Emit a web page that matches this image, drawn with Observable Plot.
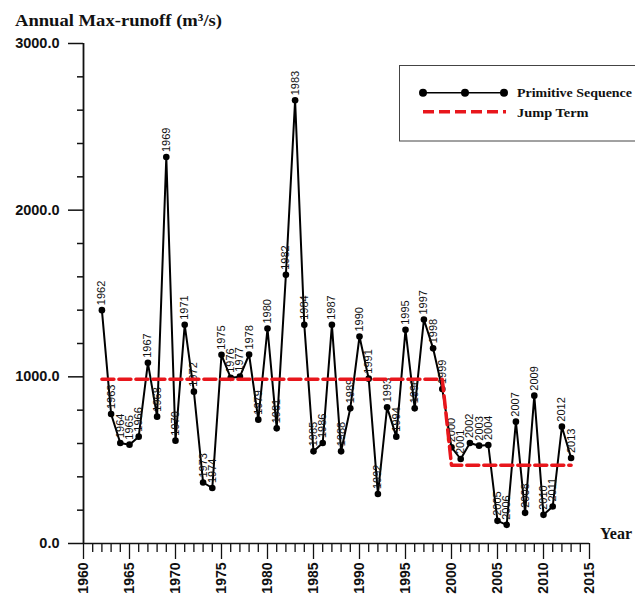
<!DOCTYPE html>
<html>
<head>
<meta charset="utf-8">
<script src="https://cdn.jsdelivr.net/npm/d3@7"></script>
<script src="https://cdn.jsdelivr.net/npm/@observablehq/plot@0.6"></script>
<style>
  html, body { margin: 0; padding: 0; background: #fff; }
  #wrap { position: relative; width: 635px; height: 601px; overflow: hidden; }
  #wrap > svg { position: absolute; left: 0; top: 0; }
</style>
</head>
<body>
<div id="wrap"></div>
<script>
// Annual maximum runoff (m³/s), one value per year
const years = [
  1962, 1963, 1964, 1965, 1966, 1967, 1968, 1969, 1970, 1971,
  1972, 1973, 1974, 1975, 1976, 1977, 1978, 1979, 1980, 1981,
  1982, 1983, 1984, 1985, 1986, 1987, 1988, 1989, 1990, 1991,
  1992, 1993, 1994, 1995, 1996, 1997, 1998, 1999, 2000, 2001,
  2002, 2003, 2004, 2005, 2006, 2007, 2008, 2009, 2010, 2011,
  2012, 2013
];
const runoff = [
  1400, 777, 603, 593, 641, 1084, 761, 2319, 617, 1312,
  911, 366, 333, 1132, 994, 1001, 1134, 743, 1290, 691,
  1612, 2659, 1312, 553, 603, 1312, 553, 811, 1242, 989,
  297, 817, 641, 1282, 811, 1344, 1171, 927, 577, 507,
  603, 587, 591, 136, 112, 731, 184, 887, 172, 222,
  701, 513
];

// Jump term: mean level before and after the change point
const jumpYears = [1962, 1999, 2000, 2013];
const jumpLevels = [985, 985, 470, 470];

// Axis ticks
const yMajorTicks = [0, 1000, 2000, 3000];
const yMinorTicks = [200, 400, 600, 800, 1200, 1400, 1600, 1800, 2200, 2400, 2600, 2800];
const xMajorTicks = [1960, 1965, 1970, 1975, 1980, 1985, 1990, 1995, 2000, 2005, 2010, 2015];
const xMinorTicks = d3.range(1960, 2016).filter(y => y % 5 !== 0);

const series = years.map((year, i) => ({year, runoff: runoff[i]}));
const jump = jumpYears.map((year, i) => ({year, level: jumpLevels[i]}));

const sans = "'Liberation Sans', Arial, sans-serif";
const serif = "'Liberation Serif', 'Times New Roman', serif";

const chart = Plot.plot({
  width: 635,
  height: 601,
  marginLeft: 83,
  marginRight: 46,
  marginTop: 43,
  marginBottom: 58,
  x: {domain: [1960, 2015]},
  y: {domain: [0, 3000]},
  style: {background: "transparent", color: "#111", overflow: "visible"},
  marks: [
    // minor and major ticks of the value axis
    Plot.axisY(yMinorTicks, {tickSize: 6, tickFormat: () => "", strokeWidth: 1.5, label: null}),
    Plot.axisY(yMajorTicks, {
      tickSize: 15, tickPadding: 9, strokeWidth: 1.5, label: null,
      tickFormat: d => d.toFixed(1),
      fontSize: 14.5, fontWeight: "bold", fontFamily: sans
    }),
    // minor and major ticks of the year axis
    Plot.axisX(xMinorTicks, {tickSize: 9, tickFormat: () => "", strokeWidth: 1.3, label: null}),
    Plot.axisX(xMajorTicks, {
      tickSize: 16, tickPadding: 3, tickRotate: -90, strokeWidth: 1.3, label: null,
      tickFormat: d => String(d),
      fontSize: 14, fontWeight: "bold", fontFamily: sans
    }),
    // axis lines
    Plot.ruleX([1960], {y1: 0, y2: 3000, stroke: "#111", strokeWidth: 1.8}),
    Plot.ruleY([0], {stroke: "#111", strokeWidth: 1.5}),
    // primitive sequence
    Plot.line(series, {x: "year", y: "runoff", stroke: "#000", strokeWidth: 2}),
    Plot.dot(series, {x: "year", y: "runoff", r: 3.3, fill: "#000", stroke: "none"}),
    Plot.text(series, {
      x: "year", y: "runoff", text: d => String(d.year),
      rotate: -90, textAnchor: "start", dy: -5,
      fontSize: 11, fontFamily: sans, fill: "#111"
    }),
    // jump term
    Plot.line(jump, {
      x: "year", y: "level", stroke: "#e8161c", strokeWidth: 3.5,
      strokeDasharray: "12,5"
    })
  ]
});

const wrap = document.getElementById("wrap");
wrap.appendChild(chart);

// Title, year label and legend
const ns = "http://www.w3.org/2000/svg";
const overlay = d3.select(wrap).append("svg")
  .attr("xmlns", ns)
  .attr("width", 635).attr("height", 601);

overlay.append("text")
  .attr("x", 15).attr("y", 25.5)
  .attr("font-family", serif).attr("font-weight", "bold").attr("font-size", 17)
  .attr("textLength", 207).attr("lengthAdjust", "spacingAndGlyphs")
  .attr("fill", "#111")
  .text("Annual Max-runoff (m³/s)");

overlay.append("text")
  .attr("x", 600).attr("y", 538.5)
  .attr("font-family", serif).attr("font-weight", "bold").attr("font-size", 16)
  .attr("fill", "#111")
  .text("Year");

const legend = overlay.append("g");
legend.append("rect")
  .attr("x", 399.5).attr("y", 65.5).attr("width", 320).attr("height", 75.5)
  .attr("fill", "#fff").attr("stroke", "#444").attr("stroke-width", 1);
legend.append("line")
  .attr("x1", 423).attr("x2", 504).attr("y1", 92.7).attr("y2", 92.7)
  .attr("stroke", "#000").attr("stroke-width", 1.6);
legend.selectAll("circle").data([423, 465, 504]).join("circle")
  .attr("cx", d => d).attr("cy", 92.7).attr("r", 4).attr("fill", "#000");
legend.append("line")
  .attr("x1", 423).attr("x2", 506).attr("y1", 111.7).attr("y2", 111.7)
  .attr("stroke", "#e8161c").attr("stroke-width", 3.5).attr("stroke-dasharray", "11,5");
legend.append("text")
  .attr("x", 517).attr("y", 97)
  .attr("font-family", serif).attr("font-weight", "bold").attr("font-size", 13)
  .attr("textLength", 115).attr("lengthAdjust", "spacingAndGlyphs")
  .attr("fill", "#111")
  .text("Primitive Sequence");
legend.append("text")
  .attr("x", 517).attr("y", 116.5)
  .attr("font-family", serif).attr("font-weight", "bold").attr("font-size", 13)
  .attr("textLength", 71.5).attr("lengthAdjust", "spacingAndGlyphs")
  .attr("fill", "#111")
  .text("Jump Term");
</script>
</body>
</html>
